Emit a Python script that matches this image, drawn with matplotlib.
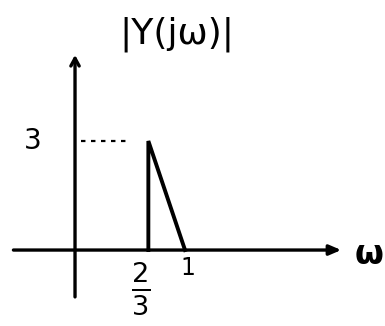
import numpy as np
import matplotlib
matplotlib.use("Agg")
import matplotlib.pyplot as plt

# spectrum magnitude |Y(jw)|: jumps to 3 at w=2/3, falls linearly to 0 at w=1
omega = [2 / 3, 2 / 3, 1.0]
mag = [0.0, 3.0, 0.0]
peak_w = 2 / 3
peak_val = 3
x_ticks = [2 / 3, 1.0]
x_ticklabels = [r"$\frac{2}{3}$", "1"]
y_label_text = "3"
title_text = "|Y(jω)|"
x_axis_text = "ω"

fig = plt.figure(figsize=(3.85, 3.26), dpi=100)
ax = fig.add_axes([0, 0, 1, 1])
ax.set_xlim(-0.682, 2.818)
ax.set_ylim(-2.09, 6.88)
ax.axis("off")

ink = "black"

# axes drawn as arrows
ax.annotate("", xy=(2.42, 0), xytext=(-0.56, 0),
            arrowprops=dict(arrowstyle="-|>,head_length=0.7,head_width=0.3",
                            color=ink, lw=2.4, shrinkA=0, shrinkB=0))
ax.annotate("", xy=(0, 5.37), xytext=(0, -1.29),
            arrowprops=dict(arrowstyle="->,head_length=0.55,head_width=0.3",
                            color=ink, lw=2.4, shrinkA=0, shrinkB=0))

# the triangle
ax.plot(omega, mag, color=ink, lw=2.8, solid_joinstyle="miter")

# dashed guide at the peak
ax.plot([0.05, peak_w - 0.17], [peak_val, peak_val], color=ink, lw=1.6,
        linestyle=(0, (2, 2.5)))

# labels
ax.text(-0.38, peak_val, y_label_text, fontsize=20, ha="center", va="center")
ax.text(0.93, 5.95, title_text, fontsize=26, ha="center", va="center")
ax.text(2.67, -0.12, x_axis_text, fontsize=24, ha="center", va="center",
        fontweight="bold")
ax.text(x_ticks[0] - 0.07, -1.05, x_ticklabels[0], fontsize=28,
        ha="center", va="center")
ax.text(x_ticks[1] + 0.03, -0.5, x_ticklabels[1], fontsize=17,
        ha="center", va="center")

fig.savefig("out.png", dpi=100)
plt.close(fig)
